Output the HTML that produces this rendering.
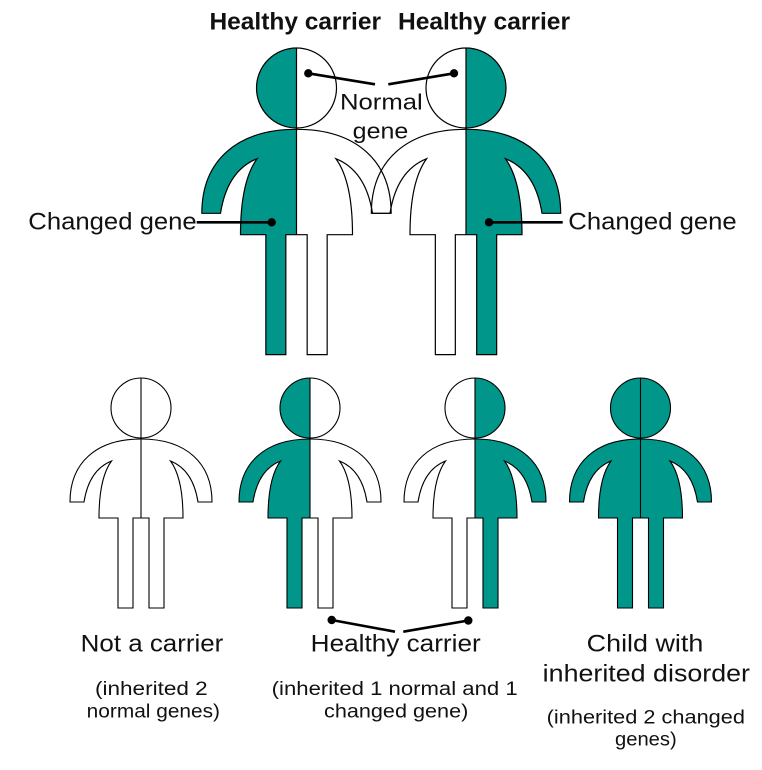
<!DOCTYPE html>
<html>
<head>
<meta charset="utf-8">
<style>
html,body{margin:0;padding:0;background:#fff;}
svg{display:block;}
text{font-family:"Liberation Sans",Arial,sans-serif;fill:#111;}
</style>
</head>
<body>
<svg width="762" height="770" viewBox="0 0 762 770" xmlns="http://www.w3.org/2000/svg">
<defs>
<clipPath id="L" clipPathUnits="userSpaceOnUse"><rect x="-120" y="-100" width="120" height="400"/></clipPath>
<clipPath id="R" clipPathUnits="userSpaceOnUse"><rect x="0" y="-100" width="120" height="400"/></clipPath>
</defs>

<!-- ADULT FILLS -->
<g transform="translate(296.5,88) scale(1.3333)">
<path d="M0,31 C-45,31 -71,55 -71,94 L-57,94 Q-52,62 -29.5,53 Q-42,70 -42,110 L-23,110 L-23,200 L-8,200 L-8,110 L8,110 L8,200 L23,200 L23,110 L42,110 Q42,70 29.5,53 Q52,62 57,94 L71,94 C71,55 45,31 0,31 Z" fill="#fff"/>
<circle r="30" fill="#fff"/>
<g clip-path="url(#L)">
<path d="M0,31 C-45,31 -71,55 -71,94 L-57,94 Q-52,62 -29.5,53 Q-42,70 -42,110 L-23,110 L-23,200 L-8,200 L-8,110 L8,110 L8,200 L23,200 L23,110 L42,110 Q42,70 29.5,53 Q52,62 57,94 L71,94 C71,55 45,31 0,31 Z" fill="#00968a"/>
<circle r="30" fill="#00968a"/>
</g>
</g>
<g transform="translate(466,88) scale(1.3333)">
<path d="M0,31 C-45,31 -71,55 -71,94 L-57,94 Q-52,62 -29.5,53 Q-42,70 -42,110 L-23,110 L-23,200 L-8,200 L-8,110 L8,110 L8,200 L23,200 L23,110 L42,110 Q42,70 29.5,53 Q52,62 57,94 L71,94 C71,55 45,31 0,31 Z" fill="#fff"/>
<circle r="30" fill="#fff"/>
<g clip-path="url(#R)">
<path d="M0,31 C-45,31 -71,55 -71,94 L-57,94 Q-52,62 -29.5,53 Q-42,70 -42,110 L-23,110 L-23,200 L-8,200 L-8,110 L8,110 L8,200 L23,200 L23,110 L42,110 Q42,70 29.5,53 Q52,62 57,94 L71,94 C71,55 45,31 0,31 Z" fill="#00968a"/>
<circle r="30" fill="#00968a"/>
</g>
</g>
<!-- ADULT STROKES -->
<g transform="translate(296.5,88) scale(1.3333)" fill="none" stroke="#000">
<path vector-effect="non-scaling-stroke" stroke-width="1.2" d="M0,31 C-45,31 -71,55 -71,94 L-57,94 Q-52,62 -29.5,53 Q-42,70 -42,110 L-23,110 L-23,200 L-8,200 L-8,110 L8,110 L8,200 L23,200 L23,110 L42,110 Q42,70 29.5,53 Q52,62 57,94 L71,94 C71,55 45,31 0,31 Z"/>
<circle vector-effect="non-scaling-stroke" stroke-width="1.2" r="30"/>
<line vector-effect="non-scaling-stroke" stroke-width="1.2" x1="0" y1="-30" x2="0" y2="110"/>
</g>
<g transform="translate(466,88) scale(1.3333)" fill="none" stroke="#000">
<path vector-effect="non-scaling-stroke" stroke-width="1.2" d="M0,31 C-45,31 -71,55 -71,94 L-57,94 Q-52,62 -29.5,53 Q-42,70 -42,110 L-23,110 L-23,200 L-8,200 L-8,110 L8,110 L8,200 L23,200 L23,110 L42,110 Q42,70 29.5,53 Q52,62 57,94 L71,94 C71,55 45,31 0,31 Z"/>
<circle vector-effect="non-scaling-stroke" stroke-width="1.2" r="30"/>
<line vector-effect="non-scaling-stroke" stroke-width="1.2" x1="0" y1="-30" x2="0" y2="110"/>
</g>

<!-- CHILD 1: not a carrier -->
<g transform="translate(141,408)">
<path d="M0,31 C-45,31 -71,55 -71,94 L-57,94 Q-52,62 -29.5,53 Q-42,70 -42,110 L-23,110 L-23,200 L-8,200 L-8,110 L8,110 L8,200 L23,200 L23,110 L42,110 Q42,70 29.5,53 Q52,62 57,94 L71,94 C71,55 45,31 0,31 Z" fill="#fff" stroke="#000" stroke-width="1.1"/>
<circle r="30" fill="#fff" stroke="#000" stroke-width="1.1"/>
<line x1="0" y1="-30" x2="0" y2="110" stroke="#000" stroke-width="1.1"/>
</g>

<!-- CHILD 2: left teal -->
<g transform="translate(310,408)">
<path d="M0,31 C-45,31 -71,55 -71,94 L-57,94 Q-52,62 -29.5,53 Q-42,70 -42,110 L-23,110 L-23,200 L-8,200 L-8,110 L8,110 L8,200 L23,200 L23,110 L42,110 Q42,70 29.5,53 Q52,62 57,94 L71,94 C71,55 45,31 0,31 Z" fill="#fff"/>
<circle r="30" fill="#fff"/>
<g clip-path="url(#L)">
<path d="M0,31 C-45,31 -71,55 -71,94 L-57,94 Q-52,62 -29.5,53 Q-42,70 -42,110 L-23,110 L-23,200 L-8,200 L-8,110 L8,110 L8,200 L23,200 L23,110 L42,110 Q42,70 29.5,53 Q52,62 57,94 L71,94 C71,55 45,31 0,31 Z" fill="#00968a"/>
<circle r="30" fill="#00968a"/>
</g>
<path d="M0,31 C-45,31 -71,55 -71,94 L-57,94 Q-52,62 -29.5,53 Q-42,70 -42,110 L-23,110 L-23,200 L-8,200 L-8,110 L8,110 L8,200 L23,200 L23,110 L42,110 Q42,70 29.5,53 Q52,62 57,94 L71,94 C71,55 45,31 0,31 Z" fill="none" stroke="#000" stroke-width="1.1"/>
<circle r="30" fill="none" stroke="#000" stroke-width="1.1"/>
<line x1="0" y1="-30" x2="0" y2="110" stroke="#000" stroke-width="1.1"/>
</g>

<!-- CHILD 3: right teal -->
<g transform="translate(475,408)">
<path d="M0,31 C-45,31 -71,55 -71,94 L-57,94 Q-52,62 -29.5,53 Q-42,70 -42,110 L-23,110 L-23,200 L-8,200 L-8,110 L8,110 L8,200 L23,200 L23,110 L42,110 Q42,70 29.5,53 Q52,62 57,94 L71,94 C71,55 45,31 0,31 Z" fill="#fff"/>
<circle r="30" fill="#fff"/>
<g clip-path="url(#R)">
<path d="M0,31 C-45,31 -71,55 -71,94 L-57,94 Q-52,62 -29.5,53 Q-42,70 -42,110 L-23,110 L-23,200 L-8,200 L-8,110 L8,110 L8,200 L23,200 L23,110 L42,110 Q42,70 29.5,53 Q52,62 57,94 L71,94 C71,55 45,31 0,31 Z" fill="#00968a"/>
<circle r="30" fill="#00968a"/>
</g>
<path d="M0,31 C-45,31 -71,55 -71,94 L-57,94 Q-52,62 -29.5,53 Q-42,70 -42,110 L-23,110 L-23,200 L-8,200 L-8,110 L8,110 L8,200 L23,200 L23,110 L42,110 Q42,70 29.5,53 Q52,62 57,94 L71,94 C71,55 45,31 0,31 Z" fill="none" stroke="#000" stroke-width="1.1"/>
<circle r="30" fill="none" stroke="#000" stroke-width="1.1"/>
<line x1="0" y1="-30" x2="0" y2="110" stroke="#000" stroke-width="1.1"/>
</g>

<!-- CHILD 4: all teal -->
<g transform="translate(640.5,408)">
<path d="M0,31 C-45,31 -71,55 -71,94 L-57,94 Q-52,62 -29.5,53 Q-42,70 -42,110 L-23,110 L-23,200 L-8,200 L-8,110 L8,110 L8,200 L23,200 L23,110 L42,110 Q42,70 29.5,53 Q52,62 57,94 L71,94 C71,55 45,31 0,31 Z" fill="#00968a" stroke="#000" stroke-width="1.1"/>
<circle r="30" fill="#00968a" stroke="#000" stroke-width="1.1"/>
<line x1="0" y1="-30" x2="0" y2="110" stroke="#000" stroke-width="1.1"/>
</g>

<!-- CONNECTORS -->
<g stroke="#000" stroke-width="2.6" fill="#000">
<line x1="308.3" y1="73.3" x2="375" y2="84.3"/>
<circle cx="308.3" cy="73.3" r="4.2" stroke="none"/>
<line x1="454" y1="73.3" x2="388.3" y2="84.3"/>
<circle cx="454" cy="73.3" r="4.2" stroke="none"/>
<line x1="196.7" y1="222.3" x2="271.7" y2="222.3"/>
<circle cx="271.7" cy="222.3" r="4.2" stroke="none"/>
<line x1="489" y1="222.3" x2="562.7" y2="222.3"/>
<circle cx="489" cy="222.3" r="4.2" stroke="none"/>
<line x1="331.7" y1="620" x2="395" y2="631.7"/>
<circle cx="331.7" cy="620" r="4.2" stroke="none"/>
<line x1="468.3" y1="620.5" x2="403.3" y2="631.7"/>
<circle cx="468.3" cy="620.5" r="4.2" stroke="none"/>
</g>

<!-- TEXT -->
<text x="209.5" y="29.3" font-size="24" font-weight="bold" textLength="171.5" lengthAdjust="spacingAndGlyphs">Healthy carrier</text>
<text x="398" y="29.3" font-size="24" font-weight="bold" textLength="172" lengthAdjust="spacingAndGlyphs">Healthy carrier</text>
<text x="340" y="109.3" font-size="22" textLength="82.7" lengthAdjust="spacingAndGlyphs">Normal</text>
<text x="352.7" y="138.3" font-size="22" textLength="55.6" lengthAdjust="spacingAndGlyphs">gene</text>
<text x="28.3" y="229.3" font-size="24" textLength="168.4" lengthAdjust="spacingAndGlyphs">Changed gene</text>
<text x="568.3" y="229.3" font-size="24" textLength="168.4" lengthAdjust="spacingAndGlyphs">Changed gene</text>
<text x="80.7" y="651.7" font-size="24" textLength="142.6" lengthAdjust="spacingAndGlyphs">Not a carrier</text>
<text x="310.7" y="651.7" font-size="24" textLength="170" lengthAdjust="spacingAndGlyphs">Healthy carrier</text>
<text x="586.7" y="651.7" font-size="24" textLength="116.6" lengthAdjust="spacingAndGlyphs">Child with</text>
<text x="542.7" y="681.7" font-size="24" textLength="207.3" lengthAdjust="spacingAndGlyphs">inherited disorder</text>
<text x="95" y="695" font-size="19" textLength="112.7" lengthAdjust="spacingAndGlyphs">(inherited 2</text>
<text x="86.7" y="717.3" font-size="19" textLength="133.3" lengthAdjust="spacingAndGlyphs">normal genes)</text>
<text x="271.7" y="695" font-size="19" textLength="246" lengthAdjust="spacingAndGlyphs">(inherited 1 normal and 1</text>
<text x="324" y="717.3" font-size="19" textLength="144.3" lengthAdjust="spacingAndGlyphs">changed gene)</text>
<text x="546.7" y="723.3" font-size="19" textLength="198.3" lengthAdjust="spacingAndGlyphs">(inherited 2 changed</text>
<text x="615" y="745.5" font-size="19" textLength="61.7" lengthAdjust="spacingAndGlyphs">genes)</text>
</svg>
</body>
</html>
